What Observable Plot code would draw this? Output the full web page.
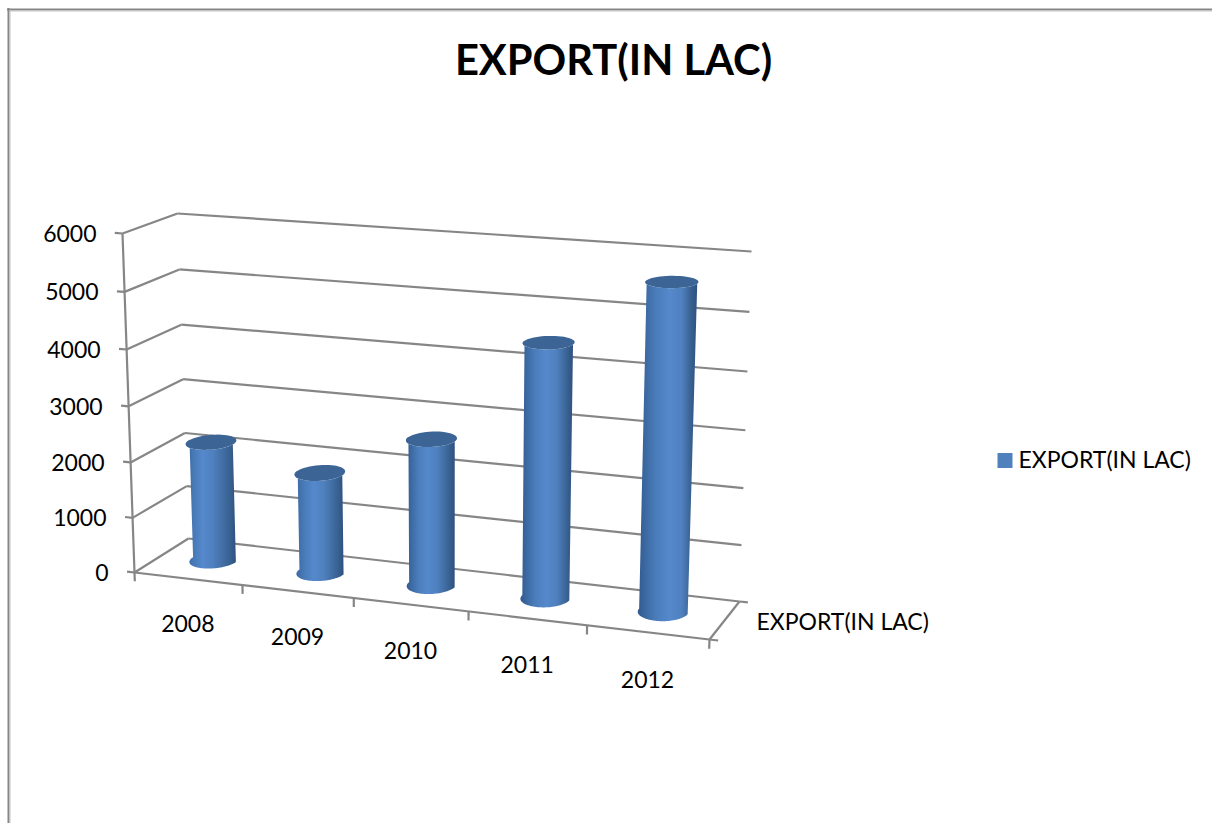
<!DOCTYPE html>
<html>
<head>
<meta charset="utf-8">
<style>html,body{margin:0;padding:0;background:#fff}svg{display:block}</style>
<script src="https://cdn.jsdelivr.net/npm/d3@7"></script>
<script src="https://cdn.jsdelivr.net/npm/@observablehq/plot@0.6"></script>
</head>
<body>
<div id="chart"></div>
<script>
// Chart values
const years = ["2008", "2009", "2010", "2011", "2012"];
const exportValues = [2165, 1805, 2600, 4440, 5600];
const valueTicks = [0, 1000, 2000, 3000, 4000, 5000, 6000];
const seriesName = "EXPORT(IN LAC)";

const WIDTH = 1212, HEIGHT = 823, VMAX = 6000;
const GRID = "#868686", SANS = "Lato, sans-serif", LABEL_SIZE = 23;

// Camera: where the corners of the front and back planes of the 3D box land.
// Order: (c0,v0), (c5,v0), (c5,vmax), (c0,vmax).
const frontPlane = [[134, 572], [709, 639], [721, 274], [122, 233]];
const backPlane = [[188, 538], [739, 601], [751, 251], [177, 213]];

// Unit square to quadrilateral homography.
function homography([[x0, y0], [x1, y1], [x2, y2], [x3, y3]]) {
  const dx1 = x1 - x2, dx2 = x3 - x2, sx = x0 - x1 + x2 - x3;
  const dy1 = y1 - y2, dy2 = y3 - y2, sy = y0 - y1 + y2 - y3;
  const den = dx1 * dy2 - dx2 * dy1;
  const g = (sx * dy2 - dx2 * sy) / den, h = (dx1 * sy - sx * dy1) / den;
  const a = x1 - x0 + g * x1, b = x3 - x0 + h * x3;
  const d = y1 - y0 + g * y1, e = y3 - y0 + h * y3;
  return (u, v) => {
    const w = g * u + h * v + 1;
    return [(a * u + b * v + x0) / w, (d * u + e * v + y0) / w];
  };
}
const front = homography(frontPlane), back = homography(backPlane);

// c: category position, v: value, d: depth (0 at the front, 1 at the back).
function project(c, v, d = 0) {
  const u = c / years.length, t = v / VMAX;
  const [fx, fy] = front(u, t), [bx, by] = back(u, t);
  return {x: fx + (bx - fx) * d, y: fy + (by - fy) * d};
}
const seg = (a, b) => ({x1: a.x, y1: a.y, x2: b.x, y2: b.y});

// Box frame: back wall and left wall rules, the floor edges, and tick stubs.
const nCat = years.length;
const frame = [
  ...valueTicks.map(v => seg(project(0, v, 1), project(nCat, v, 1))),
  ...valueTicks.map(v => seg(project(0, v, 0), project(0, v, 1))),
  seg(project(0, 0), project(0, VMAX)),
  seg(project(0, 0), project(nCat, 0)),
  seg(project(nCat, 0, 0), project(nCat, 0, 1)),
  ...valueTicks.map(v => seg(project(0, v), project(-0.07, v))),
  ...d3.range(0, nCat + 1).map(i => seg(project(i, 0), project(i, -160))),
  seg(project(nCat, 0, 0), project(nCat + 0.07, 0, 0)),
  seg(project(nCat, 0, 1), project(nCat + 0.07, 0, 1))
];

// Cylinder outlines, built from a circle on the category/depth plane.
const RC = 0.203, RD = 0.25, DEPTH = 0.55, STEPS = 48;
const ring = (i, v, from, to) => d3.range(STEPS + 1).map(k => {
  const t = from + (to - from) * k / STEPS;
  return project(i + 0.48 + RC * Math.cos(t), v, DEPTH - RD * Math.sin(t));
});
const sides = exportValues.map((v, i) => [...ring(i, 0, Math.PI, 0), ...ring(i, v, 0, Math.PI)]);
const caps = exportValues.map((v, i) => ring(i, v, 0, 2 * Math.PI));

// One horizontal gradient per cylinder; the highlight drifts with the viewing angle.
function gradients() {
  const defs = d3.create("svg:defs");
  years.forEach((_, i) => {
    const g = defs.append("linearGradient").attr("id", `cyl${i}`);
    const peak = 0.34 + i * 0.05;
    [[0, i < 2 ? "#3a679f" : "#305a8e"], [peak * 0.55, "#4a7cba"], [peak, "#5589cc"],
     [peak + 0.2, "#4f80bf"], [0.9, "#37608f"], [1, "#2e5080"]]
      .forEach(([o, c]) => g.append("stop").attr("offset", o).attr("stop-color", c));
  });
  return defs.node();
}

const chart = Plot.plot({
  width: WIDTH,
  height: HEIGHT,
  margin: 0,
  x: {domain: [0, WIDTH], range: [0, WIDTH], axis: null},
  y: {domain: [0, HEIGHT], range: [0, HEIGHT], axis: null},
  style: {background: "#fff"},
  marks: [
    gradients,
    // Page frame along the top and left edges
    Plot.ruleY([9], {x1: 7, x2: WIDTH, stroke: GRID, strokeWidth: 2}),
    Plot.ruleY([10.5], {x1: 9, x2: WIDTH, stroke: "#c4c4c4", strokeWidth: 1}),
    Plot.ruleX([8], {y1: 8, y2: HEIGHT, stroke: GRID, strokeWidth: 2}),
    Plot.ruleX([9.5], {y1: 10, y2: HEIGHT, stroke: "#c4c4c4", strokeWidth: 1}),
    Plot.link(frame, {x1: "x1", y1: "y1", x2: "x2", y2: "y2", stroke: GRID, strokeWidth: 2.2}),
    ...years.flatMap((_, i) => [
      Plot.line(sides[i], {x: "x", y: "y", fill: `url(#cyl${i})`, stroke: "none"}),
      Plot.line(caps[i], {x: "x", y: "y", fill: "#3c6596", stroke: "none"})
    ]),
    Plot.text([seriesName], {
      x: () => 613, y: () => 61, text: d => d, fontFamily: SANS, fontWeight: 700, fontSize: 41.7, fill: "#000"
    }),
    Plot.text(valueTicks, {
      x: v => project(0, v).x - 26, y: v => project(0, v).y + 1, text: v => String(v),
      textAnchor: "end", fontFamily: SANS, fontSize: LABEL_SIZE, fill: "#000"
    }),
    Plot.text(years, {
      x: (_, i) => project(i + 0.5, -800).x - 1.5 + i * 0.6, y: (_, i) => project(i + 0.5, -800).y + 2,
      text: d => d, fontFamily: SANS, fontSize: LABEL_SIZE, fill: "#000"
    }),
    Plot.text([seriesName], {
      x: () => project(nCat, 0, 0.5).x + 32, y: () => project(nCat, 0, 0.5).y + 2, text: d => d,
      textAnchor: "start", fontFamily: SANS, fontSize: LABEL_SIZE, fill: "#000"
    }),
    // Legend
    Plot.dot([seriesName], {x: () => 1004.5, y: () => 460, symbol: "square", r: 8.46, fill: "#4f81bd", stroke: "none"}),
    Plot.text([seriesName], {
      x: () => 1018, y: () => 460, text: d => d, textAnchor: "start", fontFamily: SANS, fontSize: LABEL_SIZE, fill: "#000"
    })
  ]
});
document.getElementById("chart").append(chart);
</script>
</body>
</html>
